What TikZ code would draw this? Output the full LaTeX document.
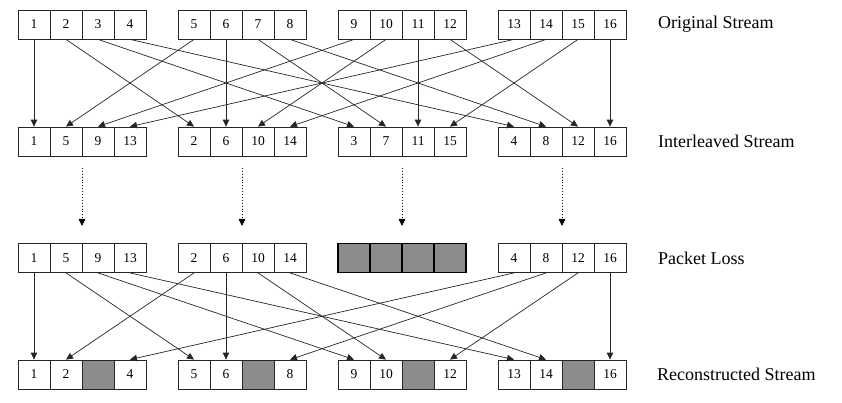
\documentclass[tikz,border=0pt]{standalone}
\usepackage{fontspec}
\setmainfont{Liberation Serif}
\usetikzlibrary{arrows.meta}
\begin{document}
\begin{tikzpicture}[x=1pt,y=-1pt,
  cell/.style={draw=black!85,line width=0.8pt,minimum width=32pt,minimum height=29pt,inner sep=0pt,font=\fontsize{13.5}{13.5}\selectfont},
  lost/.style={cell,fill=black!45},
  lostb/.style={lost,draw=black,line width=1.1pt},
  arr/.style={draw=black!85,line width=0.7pt,-{Triangle[length=7pt,width=6.5pt]}},
  varr/.style={arr,line width=0.9pt},
  darr/.style={draw=black,line width=0.9pt,dotted,-{Triangle[length=7pt,width=6.5pt]}},
  lbl/.style={anchor=west,inner sep=0pt,font=\fontsize{18}{18}\selectfont}]
\useasboundingbox (0,0) rectangle (842,403);
% Row 1: original
\foreach \n in {1,...,16}{
  \pgfmathtruncatemacro{\g}{(\n-1)/4}
  \pgfmathtruncatemacro{\c}{mod(\n-1,4)}
  \node[cell] (o\n) at (34+160*\g+32*\c,24.5) {\n};
}
% Row 2: interleaved
\foreach \n in {1,...,16}{
  \pgfmathtruncatemacro{\g}{mod(\n-1,4)}
  \pgfmathtruncatemacro{\c}{(\n-1)/4}
  \node[cell] (i\n) at (34+160*\g+32*\c,141.5) {\n};
}
% Row 3: packet loss
\foreach \n in {1,2,4,5,6,8,9,10,12,13,14,16}{
  \pgfmathtruncatemacro{\g}{mod(\n-1,4)}
  \pgfmathtruncatemacro{\c}{(\n-1)/4}
  \node[cell] (p\n) at (34+160*\g+32*\c,258) {\n};
}
\foreach \n in {3,7,11,15}{
  \pgfmathtruncatemacro{\c}{(\n-1)/4}
  \node[lostb] (p\n) at (354+32*\c,258) {};
}
% Row 4: reconstructed
\foreach \n in {1,2,4,5,6,8,9,10,12,13,14,16}{
  \pgfmathtruncatemacro{\g}{(\n-1)/4}
  \pgfmathtruncatemacro{\c}{mod(\n-1,4)}
  \node[cell] (r\n) at (34+160*\g+32*\c,374.5) {\n};
}
\foreach \n in {3,7,11,15}{
  \pgfmathtruncatemacro{\g}{(\n-1)/4}
  \node[lost] (r\n) at (34+160*\g+64,374.5) {};
}
% Arrows row1 -> row2
\foreach \n in {2,3,4,5,7,8,9,10,12,13,14,15}{
  \draw[arr] (o\n.south) -- (i\n.north);
}
\foreach \n in {1,6,11,16}{
  \draw[varr] (o\n.south) -- (i\n.north);
}
% Arrows row3 -> row4
\foreach \n in {2,4,5,8,9,10,12,13,14}{
  \draw[arr] (p\n.south) -- (r\n.north);
}
\foreach \n in {1,6,16}{
  \draw[varr] (p\n.south) -- (r\n.north);
}
% Dotted arrows
\foreach \g in {0,1,2,3}{
  \coordinate (ds\g) at (82+160*\g,168);
  \coordinate (de\g) at (82+160*\g,226);
  \draw[darr] (ds\g) -- (de\g);
}
% Labels
\node[lbl] (l1) at (658,24.5) {Original Stream};
\node[lbl] (l2) at (658,141.5) {Interleaved Stream};
\node[lbl] (l3) at (658,258) {Packet Loss};
\node[lbl] (l4) at (657,374.5) {Reconstructed Stream};
\end{tikzpicture}
\end{document}
